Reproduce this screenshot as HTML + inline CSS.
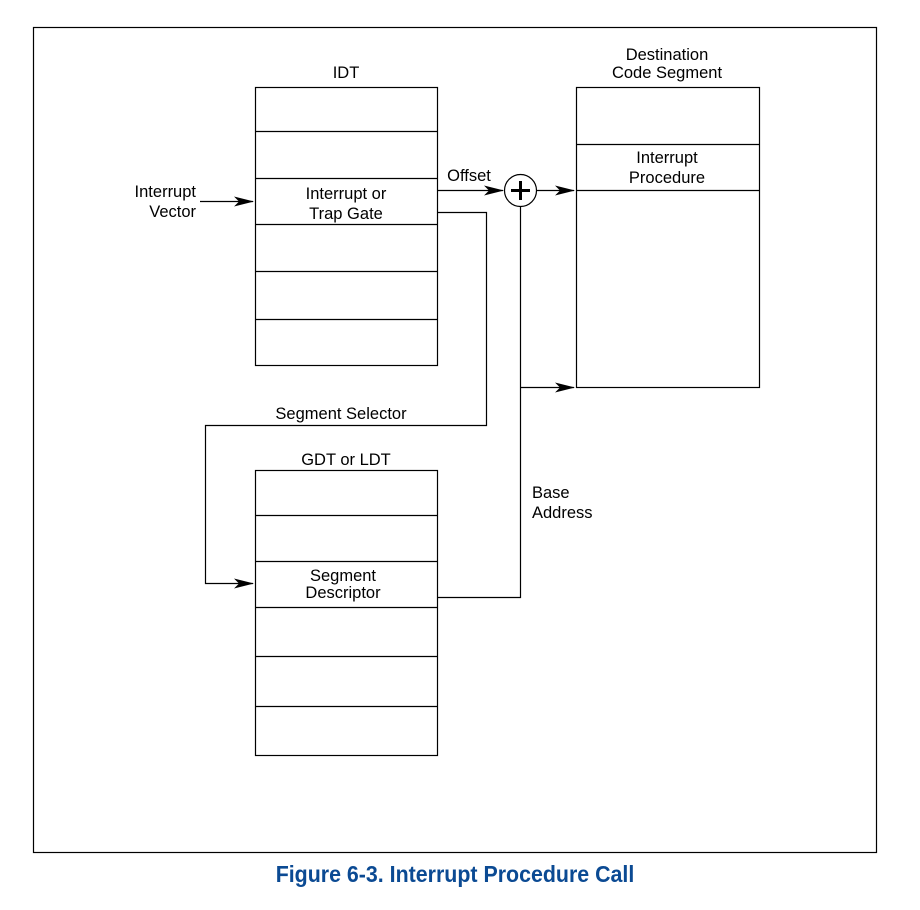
<!DOCTYPE html>
<html><head><style>
body{margin:0;background:#fff;}
svg text{font-family:"Liberation Sans",Arial,sans-serif;font-size:16.5px;fill:#000;}
</style></head><body>
<svg width="920" height="905" viewBox="0 0 920 905" xmlns="http://www.w3.org/2000/svg">
<defs><marker id="a" markerWidth="20" markerHeight="10" refX="19" refY="5" orient="auto" markerUnits="userSpaceOnUse"><path d="M0,0 L20,5 L0,10 L5,5 Z" fill="#000"/></marker></defs>
<rect x="33.5" y="27.5" width="843" height="825" fill="none" stroke="#000" stroke-width="1.2"/>
<g fill="none" stroke="#000" stroke-width="1.2">
<rect x="255.5" y="87.5" width="182" height="278"/>
<line x1="255" y1="131.5" x2="437" y2="131.5"/><line x1="255" y1="178.5" x2="437" y2="178.5"/>
<line x1="255" y1="224.5" x2="437" y2="224.5"/><line x1="255" y1="271.5" x2="437" y2="271.5"/>
<line x1="255" y1="319.5" x2="437" y2="319.5"/>
<rect x="576.5" y="87.5" width="183" height="300"/>
<line x1="576" y1="144.5" x2="759" y2="144.5"/><line x1="576" y1="190.5" x2="759" y2="190.5"/>
<rect x="255.5" y="470.5" width="182" height="285"/>
<line x1="255" y1="515.5" x2="437" y2="515.5"/><line x1="255" y1="561.5" x2="437" y2="561.5"/>
<line x1="255" y1="607.5" x2="437" y2="607.5"/><line x1="255" y1="656.5" x2="437" y2="656.5"/>
<line x1="255" y1="706.5" x2="437" y2="706.5"/>
<circle cx="520.5" cy="190.5" r="16"/>
<line x1="200" y1="201.5" x2="253" y2="201.5" marker-end="url(#a)"/>
<line x1="437" y1="190.5" x2="503" y2="190.5" marker-end="url(#a)"/>
<line x1="537" y1="190.5" x2="574" y2="190.5" marker-end="url(#a)"/>
<polyline points="437,212.5 486.5,212.5 486.5,425.5 205.5,425.5 205.5,583.5 253,583.5" marker-end="url(#a)"/>
<polyline points="437,597.5 520.5,597.5 520.5,207"/>
<line x1="520" y1="387.5" x2="574" y2="387.5" marker-end="url(#a)"/>
</g>
<g stroke="#000" stroke-width="3"><line x1="511" y1="190.5" x2="530" y2="190.5"/><line x1="520.5" y1="181" x2="520.5" y2="200"/></g>
<g text-anchor="middle">
<text x="346" y="78">IDT</text>
<text x="667" y="60">Destination</text><text x="667" y="78">Code Segment</text>
<text x="346" y="199">Interrupt or</text><text x="346" y="219">Trap Gate</text>
<text x="667" y="163">Interrupt</text><text x="667" y="183">Procedure</text>
<text x="346" y="465">GDT or LDT</text>
<text x="343" y="581">Segment</text><text x="343" y="598">Descriptor</text>
<text x="341" y="419">Segment Selector</text>
<text x="469" y="181">Offset</text>
</g>
<g text-anchor="end"><text x="196" y="197">Interrupt</text><text x="196" y="217">Vector</text></g>
<text x="532" y="498">Base</text><text x="532" y="518">Address</text>
<text x="455" y="882" text-anchor="middle" style="font-size:23px;font-weight:bold;fill:#0b4a93" transform="translate(455 0) scale(0.93 1) translate(-455 0)">Figure 6-3.  Interrupt Procedure Call</text>
</svg>
</body></html>
